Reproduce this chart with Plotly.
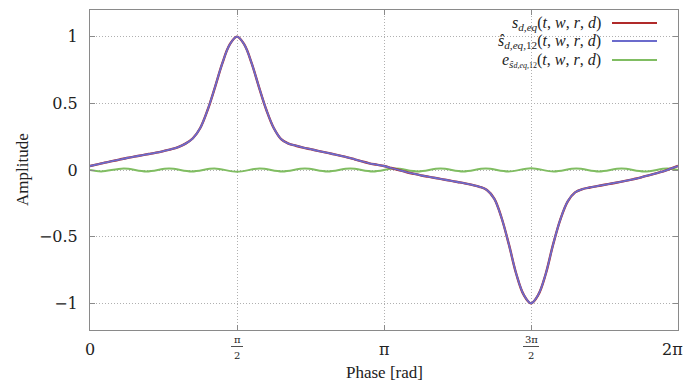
import numpy as np
import plotly.graph_objects as go

# ---- data (phase given in units of pi) ----
phase_pi = [0.000, 0.025, 0.050, 0.075, 0.100, 0.125, 0.150, 0.175, 0.200, 0.225,
            0.250, 0.275, 0.300, 0.325, 0.350, 0.375, 0.400, 0.425, 0.450, 0.475,
            0.500, 0.525, 0.550, 0.575, 0.600, 0.625, 0.650, 0.675, 0.700, 0.725,
            0.750, 0.775, 0.800, 0.825, 0.850, 0.875, 0.900, 0.925, 0.950, 0.975,
            1.000, 1.025, 1.050, 1.075, 1.100, 1.125, 1.150, 1.175, 1.200, 1.225,
            1.250, 1.275, 1.300, 1.325, 1.350, 1.375, 1.400, 1.425, 1.450, 1.475,
            1.500, 1.525, 1.550, 1.575, 1.600, 1.625, 1.650, 1.675, 1.700, 1.725,
            1.750, 1.775, 1.800, 1.825, 1.850, 1.875, 1.900, 1.925, 1.950, 1.975,
            2.000]

s_vals = [0.030, 0.042, 0.055, 0.066, 0.078, 0.090, 0.100, 0.110, 0.120, 0.130,
          0.142, 0.155, 0.172, 0.198, 0.238, 0.315, 0.450, 0.620, 0.800, 0.940,
          1.000, 0.940, 0.800, 0.620, 0.450, 0.315, 0.232, 0.198, 0.182, 0.168,
          0.156, 0.144, 0.132, 0.120, 0.108, 0.095, 0.080, 0.065, 0.050, 0.040,
          0.030, 0.015, 0.000, -0.015, -0.028, -0.040, -0.050, -0.060, -0.070, -0.080,
          -0.090, -0.100, -0.112, -0.126, -0.150, -0.215, -0.360, -0.560, -0.780, -0.935,
          -1.000, -0.935, -0.780, -0.560, -0.370, -0.235, -0.168, -0.143, -0.131, -0.121,
          -0.111, -0.101, -0.091, -0.080, -0.068, -0.055, -0.040, -0.025, -0.010, 0.010,
          0.030]

# the 12-term approximation is indistinguishable from the signal at this scale
s_hat_vals = list(s_vals)

err_phase_pi = [0.000, 0.038, 0.115, 0.192, 0.269, 0.346, 0.423, 0.500, 0.577, 0.654,
                0.731, 0.808, 0.885, 0.962, 1.038, 1.115, 1.192, 1.269, 1.346, 1.423,
                1.500, 1.577, 1.654, 1.731, 1.808, 1.885, 1.962, 2.000]
err_vals = [0.000, -0.011, 0.011, -0.011, 0.011, -0.011, 0.011, -0.013, 0.011, -0.011,
            0.011, -0.011, 0.011, -0.011, 0.011, -0.011, 0.011, -0.011, 0.011, -0.011,
            0.013, -0.011, 0.011, -0.011, 0.011, -0.011, 0.011, 0.000]

x_tick_pi = [0, 0.5, 1, 1.5, 2]
x_tick_num = ["0", "π", "π", "3π", "2π"]
x_tick_den = [None, "2", None, "2", None]
y_tick_vals = [-1, -0.5, 0, 0.5, 1]
y_tick_text = ["−1", "−0.5", "0", "0.5", "1"]

ARGS = "(<i>t</i>,&nbsp;<i>w</i>,&nbsp;<i>r</i>,&nbsp;<i>d</i>)"
legend_names = [
    "<i>s</i><sub><i>d,eq</i></sub>" + ARGS,
    "<i>ŝ</i><sub><i>d,eq,</i>12</sub>" + ARGS,
    "<i>e</i><sub><i>ŝ<span style='font-size:8px'>d,eq,</span></i><span style='font-size:8px'>12</span></sub>" + ARGS,
]
colors = ["#b02a2a", "#6b6bcc", "#80bd62"]

# ---- figure ----
PI = np.pi
x = np.array(phase_pi) * PI
xe = np.array(err_phase_pi) * PI

FONT_NUM = "DejaVu Serif"
FONT_T = "Liberation Serif"
TXT = "#222222"
FRAME = "#8a8a8a"

fig = go.Figure()
fig.add_trace(go.Scatter(x=xe, y=err_vals, mode="lines",
                         line=dict(color=colors[2], width=2, shape="spline"), name="e"))
fig.add_trace(go.Scatter(x=x, y=s_vals, mode="lines",
                         line=dict(color=colors[0], width=2.4, shape="spline"), name="s"))
fig.add_trace(go.Scatter(x=x, y=s_hat_vals, mode="lines",
                         line=dict(color=colors[1], width=1.8, shape="spline"), name="s_hat"))

axis_common = dict(showline=True, linecolor=FRAME, linewidth=1, mirror="ticks",
                   ticks="inside", ticklen=5, tickcolor=FRAME,
                   showgrid=True, gridcolor="#b0b0b0", griddash="1px,2px", gridwidth=1,
                   zeroline=False)

fig.update_layout(
    width=687, height=383,
    margin=dict(l=90, r=9, t=10, b=53),
    plot_bgcolor="white", paper_bgcolor="white",
    showlegend=False,
    font=dict(family=FONT_T, color=TXT),
    xaxis=dict(range=[0, 2 * PI], tickvals=[v * PI for v in x_tick_pi],
               showticklabels=False, **axis_common),
    yaxis=dict(range=[-1.2, 1.2], tickvals=y_tick_vals, ticktext=y_tick_text,
               tickfont=dict(family=FONT_NUM, size=16, color=TXT),
               ticklabelstandoff=8, **axis_common),
)

W = 588.0  # plot width px
H = 320.0  # plot height px


def py2paper(py):
    return (330 - py) / H


def px2paper(px):
    return (px - 90) / W


annotations = []
shapes = []

# x tick labels
for v, num, den in zip(x_tick_pi, x_tick_num, x_tick_den):
    xp = v / 2.0
    if den is None:
        if xp >= 1.0:
            ann_x, anchor = px2paper(685), "right"
        else:
            ann_x, anchor = xp, "center"
        annotations.append(dict(x=ann_x, y=py2paper(349), xref="paper", yref="paper",
                                text=num, showarrow=False, xanchor=anchor, yanchor="middle",
                                font=dict(family=FONT_NUM, size=16, color=TXT)))
    else:
        annotations.append(dict(x=xp, y=py2paper(339), xref="paper", yref="paper",
                                text=num, showarrow=False, xanchor="center", yanchor="middle",
                                font=dict(family=FONT_NUM, size=10, color=TXT)))
        annotations.append(dict(x=xp, y=py2paper(355), xref="paper", yref="paper",
                                text=den, showarrow=False, xanchor="center", yanchor="middle",
                                font=dict(family=FONT_NUM, size=10, color=TXT)))
        half = (6 if len(num) == 1 else 8) / W
        shapes.append(dict(type="line", xref="paper", yref="paper",
                           x0=xp - half, x1=xp + half,
                           y0=py2paper(346.5), y1=py2paper(346.5),
                           line=dict(color=TXT, width=0.8)))

# axis titles
annotations.append(dict(x=0.5, y=py2paper(372), xref="paper", yref="paper",
                        text="Phase [rad]", showarrow=False, xanchor="center", yanchor="middle",
                        font=dict(family=FONT_T, size=17, color=TXT)))
annotations.append(dict(x=px2paper(22), y=py2paper(170), xref="paper", yref="paper",
                        text="Amplitude", showarrow=False, xanchor="center", yanchor="middle",
                        textangle=-90, font=dict(family=FONT_T, size=17, color=TXT)))

# legend box
shapes.append(dict(type="rect", xref="paper", yref="paper",
                   x0=px2paper(366), x1=1.0, y0=py2paper(67), y1=py2paper(14),
                   fillcolor="white", line=dict(width=0), layer="between"))
legend_py = [23, 41, 60]
for name, col, py in zip(legend_names, colors, legend_py):
    annotations.append(dict(x=px2paper(603), y=py2paper(py), xref="paper", yref="paper",
                            text=name, showarrow=False, xanchor="right", yanchor="middle",
                            font=dict(family=FONT_T, size=16, color=TXT)))
    shapes.append(dict(type="line", xref="paper", yref="paper",
                       x0=px2paper(612), x1=px2paper(657), y0=py2paper(py), y1=py2paper(py),
                       line=dict(color=col, width=2)))

fig.update_layout(annotations=annotations, shapes=shapes)
fig.write_html("out.html")
